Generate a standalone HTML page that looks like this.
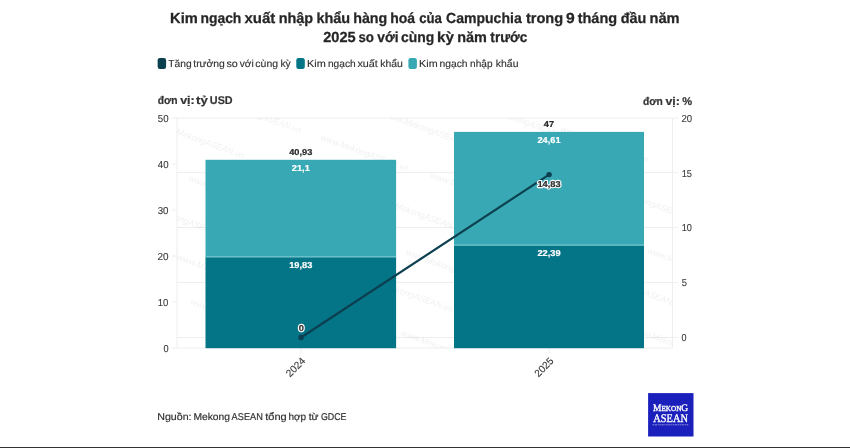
<!DOCTYPE html>
<html lang="vi">
<head>
<meta charset="utf-8">
<title>Kim ngạch xuất nhập khẩu hàng hoá của Campuchia</title>
<style>
  html, body { margin: 0; padding: 0; background: #ffffff; }
  body { width: 850px; height: 448px; overflow: hidden; position: relative;
         font-family: "Liberation Sans", sans-serif; }
  svg { position: absolute; left: 0; top: 0; display: block; will-change: transform; }
  text { font-family: "Liberation Sans", sans-serif; text-rendering: geometricPrecision; }
  .title { font-weight: bold; font-size: 14.6px; fill: #262626; stroke: #262626; stroke-width: 0.25px; }
  .leg { font-size: 10.2px; fill: #333333; stroke: #333333; stroke-width: 0.15px; }
  .unit { font-weight: bold; font-size: 11.2px; fill: #333333; stroke: #333333; stroke-width: 0.2px; }
  .tick { font-size: 10.1px; fill: #3a3a3a; stroke: #3a3a3a; stroke-width: 0.12px; }
  .val { font-weight: bold; font-size: 8.6px; }
  .src { font-size: 9.9px; fill: #333333; stroke: #333333; stroke-width: 0.2px; }
  .wm { font-style: italic; font-size: 8.7px; fill: #5a6b7b; opacity: 0.10; }
</style>
</head>
<body>
<svg width="850" height="448" viewBox="0 0 850 448">

  <!-- title -->
  <text class="title" x="170.09" y="22.6" textLength="27.67" lengthAdjust="spacingAndGlyphs">Kim</text>
  <text class="title" x="200.41" y="22.6" textLength="40.97" lengthAdjust="spacingAndGlyphs">ngạch</text>
  <text class="title" x="244.53" y="22.6" textLength="30.80" lengthAdjust="spacingAndGlyphs">xuất</text>
  <text class="title" x="278.63" y="22.6" textLength="34.56" lengthAdjust="spacingAndGlyphs">nhập</text>
  <text class="title" x="316.46" y="22.6" textLength="33.74" lengthAdjust="spacingAndGlyphs">khẩu</text>
  <text class="title" x="353.19" y="22.6" textLength="34.13" lengthAdjust="spacingAndGlyphs">hàng</text>
  <text class="title" x="390.25" y="22.6" textLength="24.86" lengthAdjust="spacingAndGlyphs">hoá</text>
  <text class="title" x="419.13" y="22.6" textLength="22.75" lengthAdjust="spacingAndGlyphs">của</text>
  <text class="title" x="446.05" y="22.6" textLength="75.65" lengthAdjust="spacingAndGlyphs">Campuchia</text>
  <text class="title" x="525.90" y="22.6" textLength="37.31" lengthAdjust="spacingAndGlyphs">trong</text>
  <text class="title" x="565.93" y="22.6" textLength="8.72" lengthAdjust="spacingAndGlyphs">9</text>
  <text class="title" x="577.67" y="22.6" textLength="39.49" lengthAdjust="spacingAndGlyphs">tháng</text>
  <text class="title" x="620.69" y="22.6" textLength="25.64" lengthAdjust="spacingAndGlyphs">đầu</text>
  <text class="title" x="649.49" y="22.6" textLength="30.11" lengthAdjust="spacingAndGlyphs">năm</text>
  <text class="title" x="323.20" y="41.6" textLength="32.43" lengthAdjust="spacingAndGlyphs">2025</text>
  <text class="title" x="358.39" y="41.6" textLength="15.50" lengthAdjust="spacingAndGlyphs">so</text>
  <text class="title" x="377.29" y="41.6" textLength="21.27" lengthAdjust="spacingAndGlyphs">với</text>
  <text class="title" x="400.91" y="41.6" textLength="33.30" lengthAdjust="spacingAndGlyphs">cùng</text>
  <text class="title" x="437.09" y="41.6" textLength="16.87" lengthAdjust="spacingAndGlyphs">kỳ</text>
  <text class="title" x="457.15" y="41.6" textLength="29.62" lengthAdjust="spacingAndGlyphs">năm</text>
  <text class="title" x="490.35" y="41.6" textLength="36.95" lengthAdjust="spacingAndGlyphs">trước</text>

  <!-- legend -->
  <rect x="157.65" y="57.95" width="8.45" height="11" rx="2.2" ry="2.2" fill="#0c3f4f"/>
  <text class="leg" x="168.39" y="67.4" textLength="23.33" lengthAdjust="spacingAndGlyphs">Tăng</text>
  <text class="leg" x="193.25" y="67.4" textLength="31.56" lengthAdjust="spacingAndGlyphs">trưởng</text>
  <text class="leg" x="226.51" y="67.4" textLength="11.31" lengthAdjust="spacingAndGlyphs">so</text>
  <text class="leg" x="239.77" y="67.4" textLength="13.95" lengthAdjust="spacingAndGlyphs">với</text>
  <text class="leg" x="255.37" y="67.4" textLength="22.65" lengthAdjust="spacingAndGlyphs">cùng</text>
  <text class="leg" x="280.40" y="67.4" textLength="10.27" lengthAdjust="spacingAndGlyphs">kỳ</text>
  <rect x="296.3" y="57.95" width="8.5" height="11" rx="2.2" ry="2.2" fill="#047487"/>
  <text class="leg" x="307.09" y="67.4" textLength="18.73" lengthAdjust="spacingAndGlyphs">Kim</text>
  <text class="leg" x="327.94" y="67.4" textLength="27.75" lengthAdjust="spacingAndGlyphs">ngạch</text>
  <text class="leg" x="357.45" y="67.4" textLength="20.41" lengthAdjust="spacingAndGlyphs">xuất</text>
  <text class="leg" x="380.24" y="67.4" textLength="22.59" lengthAdjust="spacingAndGlyphs">khẩu</text>
  <rect x="408.4" y="57.95" width="8.5" height="11" rx="2.2" ry="2.2" fill="#37a8b4"/>
  <text class="leg" x="419.13" y="67.4" textLength="18.47" lengthAdjust="spacingAndGlyphs">Kim</text>
  <text class="leg" x="439.53" y="67.4" textLength="27.99" lengthAdjust="spacingAndGlyphs">ngạch</text>
  <text class="leg" x="470.10" y="67.4" textLength="22.41" lengthAdjust="spacingAndGlyphs">nhập</text>
  <text class="leg" x="495.86" y="67.4" textLength="22.56" lengthAdjust="spacingAndGlyphs">khẩu</text>

  <!-- unit labels -->
  <text class="unit" x="157.72" y="103.7" textLength="19.82" lengthAdjust="spacingAndGlyphs">đơn</text>
  <text class="unit" x="180.16" y="103.7" textLength="14.60" lengthAdjust="spacingAndGlyphs">vị:</text>
  <text class="unit" x="196.00" y="103.7" textLength="11.74" lengthAdjust="spacingAndGlyphs">tỷ</text>
  <text class="unit" x="209.84" y="103.7" textLength="22.80" lengthAdjust="spacingAndGlyphs">USD</text>
  <text class="unit" x="643.01" y="104.5" textLength="19.82" lengthAdjust="spacingAndGlyphs">đơn</text>
  <text class="unit" x="665.41" y="104.5" textLength="14.39" lengthAdjust="spacingAndGlyphs">vị:</text>
  <text class="unit" x="682.25" y="104.5" textLength="9.86" lengthAdjust="spacingAndGlyphs">%</text>

  <!-- gridlines: left axis -->
  <g stroke="#eeeeee" stroke-width="1" fill="none">
    <!-- top / bottom full lines -->
    <line x1="172" y1="118" x2="677.5" y2="118"/>
    <line x1="172" y1="348" x2="672.5" y2="348"/>
    <!-- left ticks -->
    <line x1="172" y1="164" x2="177" y2="164"/>
    <line x1="172" y1="210" x2="177" y2="210"/>
    <line x1="172" y1="256" x2="177" y2="256"/>
    <line x1="172" y1="302" x2="177" y2="302"/>
    <!-- right axis gridlines -->
    <line x1="177" y1="172.6" x2="677.5" y2="172.6"/>
    <line x1="177" y1="227.4" x2="677.5" y2="227.4"/>
    <line x1="177" y1="282.5" x2="677.5" y2="282.5"/>
    <line x1="177" y1="337.5" x2="677.5" y2="337.5"/>
    <!-- axis lines -->
    <line x1="177" y1="118" x2="177" y2="348"/>
    <line x1="672.5" y1="118" x2="672.5" y2="348"/>
    <!-- x ticks -->
    <line x1="300.8" y1="348" x2="300.8" y2="353"/>
    <line x1="549" y1="348" x2="549" y2="353"/>
  </g>

  <!-- watermarks -->
  <clipPath id="plotclip"><rect x="177.5" y="118.5" width="494.5" height="229"/></clipPath>
  <g class="wm" clip-path="url(#plotclip)">
    <text transform="translate(156,127) rotate(20)">www.MekongASEAN.vn</text>
    <text transform="translate(213,101.7) rotate(20)">www.MekongASEAN.vn</text>
    <text transform="translate(320,139.6) rotate(20)">www.MekongASEAN.vn</text>
    <text transform="translate(384,116.6) rotate(20)">www.MekongASEAN.vn</text>
    <text transform="translate(188,180.8) rotate(20)">www.MekongASEAN.vn</text>
    <text transform="translate(430,177.5) rotate(20)">www.MekongASEAN.vn</text>
    <text transform="translate(375,201) rotate(20)">www.MekongASEAN.vn</text>
    <text transform="translate(139,207) rotate(20)">www.MekongASEAN.vn</text>
    <text transform="translate(176.6,259.6) rotate(20)">www.MekongASEAN.vn</text>
    <text transform="translate(405.5,254.6) rotate(20)">www.MekongASEAN.vn</text>
    <text transform="translate(364.6,280.7) rotate(20)">www.MekongASEAN.vn</text>
    <text transform="translate(190,304) rotate(20)">www.MekongASEAN.vn</text>
    <text transform="translate(400.6,335.3) rotate(20)">www.MekongASEAN.vn</text>
    <text transform="translate(560,131) rotate(20)">www.MekongASEAN.vn</text>
    <text transform="translate(605.7,190) rotate(20)">www.MekongASEAN.vn</text>
    <text transform="translate(647,253) rotate(20)">www.MekongASEAN.vn</text>
    <text transform="translate(594.7,277.3) rotate(20)">www.MekongASEAN.vn</text>
    <text transform="translate(631.5,331.4) rotate(20)">www.MekongASEAN.vn</text>
    <text transform="translate(480,108.5) rotate(20)">www.MekongASEAN.vn</text>
    <text transform="translate(250,230) rotate(20)">www.MekongASEAN.vn</text>
    <text transform="translate(230,335) rotate(20)">www.MekongASEAN.vn</text>
  </g>

  <!-- bars -->
  <rect x="205.5" y="159.8" width="190.6" height="97" fill="#37a8b4"/>
  <rect x="205.5" y="256.8" width="190.6" height="91.4" fill="#047487"/>
  <rect x="454" y="131.9" width="190" height="113.2" fill="#37a8b4"/>
  <rect x="454" y="245.1" width="190" height="103.1" fill="#047487"/>
  <line x1="205.5" y1="256.9" x2="396.1" y2="256.9" stroke="#74c6cf" stroke-width="1.3"/>
  <line x1="454" y1="245.1" x2="644" y2="245.1" stroke="#74c6cf" stroke-width="1.3"/>

  <!-- left tick labels -->
  <g class="tick" text-anchor="start">
    <text x="157.79" y="121.75" textLength="10.76" lengthAdjust="spacingAndGlyphs">50</text>
    <text x="157.82" y="167.75" textLength="10.74" lengthAdjust="spacingAndGlyphs">40</text>
    <text x="157.68" y="213.75" textLength="10.87" lengthAdjust="spacingAndGlyphs">30</text>
    <text x="157.55" y="259.75" textLength="11.04" lengthAdjust="spacingAndGlyphs">20</text>
    <text x="157.84" y="305.75" textLength="10.57" lengthAdjust="spacingAndGlyphs">10</text>
    <text x="163.56" y="352.05" textLength="5.13" lengthAdjust="spacingAndGlyphs">0</text>
  </g>
  <!-- right tick labels -->
  <g class="tick" text-anchor="start">
    <text x="681.48" y="121.75" textLength="10.63" lengthAdjust="spacingAndGlyphs">20</text>
    <text x="681.70" y="176.55" textLength="10.21" lengthAdjust="spacingAndGlyphs">15</text>
    <text x="681.71" y="231.35" textLength="10.16" lengthAdjust="spacingAndGlyphs">10</text>
    <text x="681.84" y="286.25" textLength="5.21" lengthAdjust="spacingAndGlyphs">5</text>
    <text x="681.38" y="341.25" textLength="4.98" lengthAdjust="spacingAndGlyphs">0</text>
  </g>

  <!-- line -->
  <line x1="301" y1="337.5" x2="549.1" y2="174.6" stroke="#0c3f4f" stroke-width="2.1" stroke-linecap="round"/>
  <circle cx="301" cy="337.5" r="2.7" fill="#0c3f4f"/>
  <circle cx="549.1" cy="174.6" r="2.7" fill="#0c3f4f"/>

  <!-- value labels -->
  <g class="val" text-anchor="middle">
    <text x="300.8" y="155" fill="#2a2a2a" stroke="#2a2a2a" stroke-width="0.2" textLength="23.18" lengthAdjust="spacingAndGlyphs">40,93</text>
    <text x="300.8" y="170.9" fill="#ffffff" stroke="#ffffff" stroke-width="0.2" textLength="18.03" lengthAdjust="spacingAndGlyphs">21,1</text>
    <text x="300.8" y="268" fill="#ffffff" stroke="#ffffff" stroke-width="0.2" textLength="23.18" lengthAdjust="spacingAndGlyphs">19,83</text>
    <text x="549" y="127.3" fill="#2a2a2a" stroke="#2a2a2a" stroke-width="0.2" textLength="10.3" lengthAdjust="spacingAndGlyphs">47</text>
    <text x="549" y="143.1" fill="#ffffff" stroke="#ffffff" stroke-width="0.2" textLength="23.18" lengthAdjust="spacingAndGlyphs">24,61</text>
    <text x="549" y="255.5" fill="#ffffff" stroke="#ffffff" stroke-width="0.2" textLength="23.18" lengthAdjust="spacingAndGlyphs">22,39</text>
    <text x="301.2" y="331" fill="#ffffff" stroke="#ffffff" stroke-width="2.4" stroke-linejoin="round" textLength="5.15" lengthAdjust="spacingAndGlyphs">0</text>
    <text x="301.2" y="331" fill="#2a2a2a" stroke="#2a2a2a" stroke-width="0.2" textLength="5.15" lengthAdjust="spacingAndGlyphs">0</text>
    <text x="549" y="186.9" fill="#ffffff" stroke="#ffffff" stroke-width="2.4" stroke-linejoin="round" textLength="23.18" lengthAdjust="spacingAndGlyphs">14,83</text>
    <text x="549" y="186.9" fill="#2a2a2a" stroke="#2a2a2a" stroke-width="0.2" textLength="23.18" lengthAdjust="spacingAndGlyphs">14,83</text>
  </g>

  <!-- x tick labels -->
  <g class="tick" text-anchor="end">
    <text transform="translate(306,361.5) rotate(-45)">2024</text>
    <text transform="translate(554.3,361.5) rotate(-45)">2025</text>
  </g>

  <!-- source -->
  <text class="src" x="157.27" y="420.4" textLength="34.23" lengthAdjust="spacingAndGlyphs">Nguồn:</text>
  <text class="src" x="193.43" y="420.4" textLength="36.50" lengthAdjust="spacingAndGlyphs">Mekong</text>
  <text class="src" x="231.61" y="420.4" textLength="31.20" lengthAdjust="spacingAndGlyphs">ASEAN</text>
  <text class="src" x="265.28" y="420.4" textLength="21.51" lengthAdjust="spacingAndGlyphs">tổng</text>
  <text class="src" x="288.41" y="420.4" textLength="17.70" lengthAdjust="spacingAndGlyphs">hợp</text>
  <text class="src" x="308.71" y="420.4" textLength="9.93" lengthAdjust="spacingAndGlyphs">từ</text>
  <text class="src" x="320.92" y="420.4" textLength="25.60" lengthAdjust="spacingAndGlyphs">GDCE</text>

  <!-- logo -->
  <rect x="648.1" y="393.1" width="45.4" height="43.4" fill="#1b20bd"/>
  <g fill="#ffffff" stroke="#ffffff" stroke-width="0.35">
    <text x="653" y="411.1" style="font-family:'Liberation Serif',serif;font-size:10px" textLength="35.2" lengthAdjust="spacingAndGlyphs">M<tspan style="font-size:7.6px">EKON</tspan>G</text>
    <text x="653.3" y="421.9" style="font-family:'Liberation Serif',serif;font-size:11.6px" textLength="34.6" lengthAdjust="spacingAndGlyphs">ASEAN</text>
  </g>
  <line x1="652.5" y1="424.8" x2="688.8" y2="424.8" stroke="#ffffff" stroke-width="0.8" stroke-dasharray="1.6 0.5 2.4 0.6 1.2 0.5" opacity="0.6"/>

  <!-- bottom border -->
  <rect x="0" y="447" width="850" height="1" fill="#333333"/>
</svg>
</body>
</html>
